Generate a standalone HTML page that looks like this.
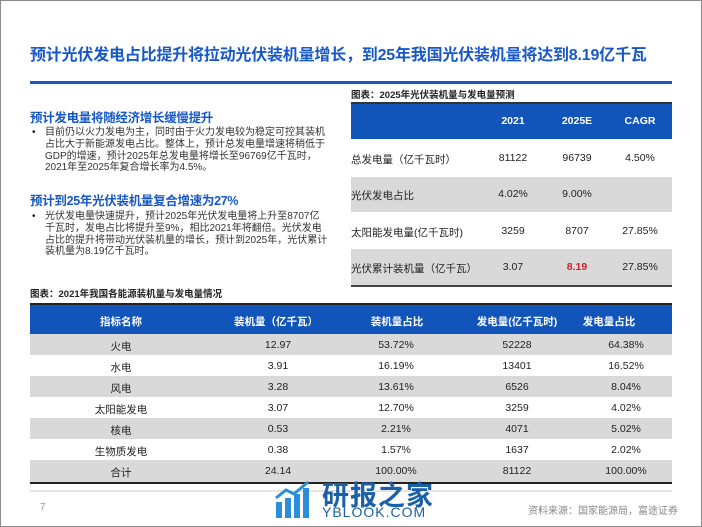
<!DOCTYPE html>
<html><head><meta charset="utf-8"><style>
*{margin:0;padding:0;box-sizing:border-box}
body{width:702px;height:527px;position:relative;background:#fff;font-family:"Liberation Sans","Noto Sans CJK SC",sans-serif;overflow:hidden;color:#222}
.a{position:absolute;white-space:nowrap}
.border{position:absolute;left:0;top:0;width:702px;height:527px;border:1px solid #8a8a8a}
.title{left:30px;top:41px;font-size:16px;font-weight:bold;color:#1758c6;letter-spacing:-0.2px}
.h{font-size:12.5px;font-weight:bold;color:#1758c6;letter-spacing:-0.3px}
.p{font-size:10px;line-height:11.8px;color:#333;left:45px;width:284px;white-space:normal}
.dot{font-size:10px;left:32px}
.cap{font-size:9.5px;font-weight:bold;color:#222}
.c{position:absolute;text-align:center;font-size:10.5px}
</style></head><body>
<div class="border"></div>
<div class="a title">预计光伏发电占比提升将拉动光伏装机量增长，到25年我国光伏装机量将达到8.19亿千瓦</div>
<div class="a" style="left:30px;top:81px;width:642px;height:3px;background:#1758c6"></div>

<div class="a h" style="left:30px;top:107px">预计发电量将随经济增长缓慢提升</div>
<div class="a dot" style="top:127px">•</div>
<div class="a p" style="top:127px">目前仍以火力发电为主，同时由于火力发电较为稳定可控其装机占比大于新能源发电占比。整体上，预计总发电量增速将稍低于GDP的增速，预计2025年总发电量将增长至96769亿千瓦时，2021年至2025年复合增长率为4.5%。</div>
<div class="a h" style="left:30px;top:190px">预计到25年光伏装机量复合增速为27%</div>
<div class="a dot" style="top:211px">•</div>
<div class="a p" style="top:211px">光伏发电量快速提升，预计2025年光伏发电量将上升至8707亿千瓦时，发电占比将提升至9%，相比2021年将翻倍。光伏发电占比的提升将带动光伏装机量的增长，预计到2025年，光伏累计装机量为8.19亿千瓦时。</div>

<div class="a cap" style="left:351px;top:87px">图表：2025年光伏装机量与发电量预测</div>
<div class="a" style="left:351px;top:102px;width:321px;height:2px;background:#333"></div>
<div class="a" style="left:351px;top:104px;width:321px;height:35px;background:#1155bb"></div>
<div class="a" style="left:351px;top:177px;width:321px;height:35px;background:#d9d9d9"></div>
<div class="a" style="left:351px;top:249px;width:321px;height:36px;background:#d9d9d9"></div>
<div class="a" style="left:351px;top:285px;width:321px;height:2px;background:#444"></div>
<div class="c" style="left:483px;width:60px;top:115px;color:#fff;font-weight:bold">2021</div>
<div class="c" style="left:547px;width:60px;top:115px;color:#fff;font-weight:bold">2025E</div>
<div class="c" style="left:610px;width:60px;top:115px;color:#fff;font-weight:bold">CAGR</div>
<div class="a" style="left:351px;top:152px;font-size:10.5px">总发电量（亿千瓦时）</div>
<div class="c" style="left:483px;width:60px;top:152px">81122</div>
<div class="c" style="left:547px;width:60px;top:152px">96739</div>
<div class="c" style="left:610px;width:60px;top:152px">4.50%</div>
<div class="a" style="left:351px;top:188px;font-size:10.5px">光伏发电占比</div>
<div class="c" style="left:483px;width:60px;top:188px">4.02%</div>
<div class="c" style="left:547px;width:60px;top:188px">9.00%</div>
<div class="a" style="left:351px;top:225px;font-size:10.5px">太阳能发电量(亿千瓦时)</div>
<div class="c" style="left:483px;width:60px;top:225px">3259</div>
<div class="c" style="left:547px;width:60px;top:225px">8707</div>
<div class="c" style="left:610px;width:60px;top:225px">27.85%</div>
<div class="a" style="left:351px;top:261px;font-size:10.5px">光伏累计装机量（亿千瓦）</div>
<div class="c" style="left:483px;width:60px;top:261px">3.07</div>
<div class="c" style="left:547px;width:60px;top:261px;color:#d0202a;font-weight:bold">8.19</div>
<div class="c" style="left:610px;width:60px;top:261px">27.85%</div>

<div class="a cap" style="left:30px;top:286px">图表：2021年我国各能源装机量与发电量情况</div>
<div class="a" style="left:30px;top:303px;width:642px;height:2px;background:#222"></div>
<div class="a" style="left:30px;top:305px;width:642px;height:29px;background:#1155bb"></div>
<div class="a" style="left:30px;top:334px;width:642px;height:21px;background:#d9d9d9"></div>
<div class="a" style="left:30px;top:376px;width:642px;height:21px;background:#d9d9d9"></div>
<div class="a" style="left:30px;top:418px;width:642px;height:21px;background:#d9d9d9"></div>
<div class="a" style="left:30px;top:460px;width:642px;height:22px;background:#d9d9d9"></div>
<div class="a" style="left:30px;top:482px;width:642px;height:2px;background:#222"></div>
<div class="a" style="left:30px;top:490px;width:642px;height:2px;background:#e4e4e4"></div>
<div id="bt"></div>
<div class="a" style="left:40px;top:502px;font-size:10px;color:#999">7</div>
<div class="a" style="left:528px;top:502px;font-size:10px;color:#888">资料来源：国家能源局，富途证券</div>
<svg class="a" style="left:274px;top:480px" width="40" height="40"><g fill="#2a8fd8"><rect x="2" y="22" width="6" height="16"/><rect x="11" y="18" width="6" height="20"/><rect x="20" y="14" width="6" height="24"/><rect x="29" y="8" width="6" height="30"/></g><polyline points="2,18 12,10 20,14 34,2" stroke="#2a8fd8" stroke-width="3" fill="none"/></svg>
<div class="a" style="left:322px;top:474px;font-size:27px;color:#1a5fa8;font-weight:bold;letter-spacing:1px">研报之家</div>
<div class="a" style="left:322px;top:504px;font-size:14px;color:#1a5fa8;letter-spacing:1px">YBLOOK.COM</div>
<script>
var rows=[["指标名称","装机量（亿千瓦）","装机量占比","发电量(亿千瓦时)","发电量占比"],
["火电","12.97","53.72%","52228","64.38%"],["水电","3.91","16.19%","13401","16.52%"],["风电","3.28","13.61%","6526","8.04%"],["太阳能发电","3.07","12.70%","3259","4.02%"],["核电","0.53","2.21%","4071","5.02%"],["生物质发电","0.38","1.57%","1637","2.02%"],["合计","24.14","100.00%","81122","100.00%"]];
var hx=[121,276,397,517,609],vx=[121,278,396,517,626],h="";
rows.forEach(function(r,i){var y=i==0?314:339+(i-1)*21;r.forEach(function(t,j){var x=i==0?hx[j]:vx[j];h+='<div class="c" style="left:'+(x-60)+'px;width:120px;top:'+y+'px;'+(i==0?'color:#fff;font-weight:bold':'')+'">'+t+'</div>';});});
document.getElementById("bt").innerHTML=h;
</script>
</body></html>
